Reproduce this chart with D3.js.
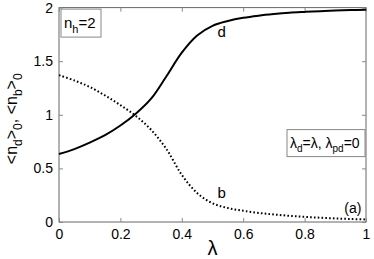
<!DOCTYPE html>
<html>
<head>
<meta charset="utf-8">
<script src="https://cdn.jsdelivr.net/npm/d3@7"></script>
<style>
  body { margin: 0; background: #fff; }
  text { font-family: "Liberation Sans", Arial, sans-serif; fill: #000; }
</style>
</head>
<body>
<div id="chart"></div>
<script>
var lambda = [0, 0.05, 0.1, 0.15, 0.2, 0.25, 0.3, 0.35, 0.4, 0.45, 0.5,
  0.55, 0.6, 0.65, 0.7, 0.75, 0.8, 0.85, 0.9, 0.95, 1];
var nd = [0.634, 0.68, 0.74, 0.81, 0.9, 1.01, 1.15, 1.36, 1.58, 1.74, 1.83,
  1.875, 1.905, 1.925, 1.94, 1.952, 1.96, 1.967, 1.973, 1.977, 1.98];
var nb = [1.37, 1.32, 1.26, 1.18, 1.09, 0.99, 0.86, 0.68, 0.44, 0.27, 0.175,
  0.13, 0.105, 0.085, 0.07, 0.058, 0.048, 0.04, 0.033, 0.028, 0.024];
var xTicks = [0, 0.2, 0.4, 0.6, 0.8, 1];
var yTicks = [0, 0.5, 1, 1.5, 2];

var margin = {top: 7.6, right: 8, bottom: 37, left: 59},
  width = 374 - margin.left - margin.right,
  height = 259 - margin.top - margin.bottom;

var svg = d3.select("#chart").append("svg")
  .attr("width", 374)
  .attr("height", 259);

var g = svg.append("g")
  .attr("transform", "translate(" + margin.left + "," + margin.top + ")");

var x = d3.scaleLinear().domain([0, 1]).range([0, width]);
var y = d3.scaleLinear().domain([0, 2]).range([height, 0]);

// box axes, ticks inward
g.append("rect")
  .attr("width", width).attr("height", height)
  .attr("fill", "none").attr("stroke", "#666").attr("stroke-width", 1);

function tickStyle(sel) {
  sel.select(".domain").remove();
  sel.selectAll(".tick line").attr("stroke", "#888");
  sel.selectAll(".tick text").style("font-size", "14px");
}

g.append("g")
  .attr("transform", "translate(0," + height + ")")
  .call(d3.axisBottom(x).tickValues(xTicks).tickSize(-4).tickPadding(7)
    .tickFormat(d3.format("")))
  .call(tickStyle);
g.append("g")
  .call(d3.axisTop(x).tickValues(xTicks).tickSize(-4).tickFormat(""))
  .call(tickStyle);
g.append("g")
  .call(d3.axisLeft(y).tickValues(yTicks).tickSize(-4).tickPadding(6)
    .tickFormat(d3.format("")))
  .call(tickStyle);
g.append("g")
  .attr("transform", "translate(" + width + ",0)")
  .call(d3.axisRight(y).tickValues(yTicks).tickSize(-4).tickFormat(""))
  .call(tickStyle);

var line = function(vals) {
  return d3.line()
    .x(function(d, i) { return x(lambda[i]); })
    .y(function(d) { return y(d); })
    .curve(d3.curveCatmullRom)(vals);
};

g.append("path")
  .attr("d", line(nd))
  .attr("fill", "none").attr("stroke", "#000").attr("stroke-width", 2);

g.append("path")
  .attr("d", line(nb))
  .attr("fill", "none").attr("stroke", "#000").attr("stroke-width", 2)
  .attr("stroke-dasharray", "1.6,2.2");

// curve labels
g.append("text").attr("x", x(0.53)).attr("y", y(1.73))
  .attr("text-anchor", "middle").style("font-size", "15px").text("d");
g.append("text").attr("x", x(0.53)).attr("y", y(0.22))
  .attr("text-anchor", "middle").style("font-size", "15px").text("b");
g.append("text").attr("x", x(0.985)).attr("y", y(0.08))
  .attr("text-anchor", "end").style("font-size", "14px").text("(a)");

// n_h box
g.append("rect")
  .attr("x", 2).attr("y", 1.5).attr("width", 40).attr("height", 28)
  .attr("fill", "#fff").attr("stroke", "#888");
var t1 = g.append("text").attr("x", 5).attr("y", 20).style("font-size", "15px");
t1.append("tspan").text("n");
t1.append("tspan").attr("dy", 5).style("font-size", "11px").text("h");
t1.append("tspan").attr("dy", -5).text("=2");

// lambda box
g.append("rect")
  .attr("x", 228).attr("y", 122).attr("width", 78).attr("height", 27)
  .attr("fill", "#fff").attr("stroke", "#888");
var t2 = g.append("text").attr("x", 231).attr("y", 140).style("font-size", "14px");
t2.append("tspan").text("λ");
t2.append("tspan").attr("dy", 4).style("font-size", "10px").text("d");
t2.append("tspan").attr("dy", -4).text("=λ, λ");
t2.append("tspan").attr("dy", 4).style("font-size", "10px").text("pd");
t2.append("tspan").attr("dy", -4).text("=0");

// axis titles
svg.append("text")
  .attr("x", margin.left + x(0.5)).attr("y", 255)
  .attr("text-anchor", "middle").style("font-size", "20px").text("λ");

var yl = svg.append("text")
  .attr("transform", "translate(17," + (margin.top + height / 2 + 4) + ") rotate(-90)")
  .attr("text-anchor", "middle").style("font-size", "16px");
yl.append("tspan").text("<n");
yl.append("tspan").attr("dy", 5).style("font-size", "12px").text("d");
yl.append("tspan").attr("dy", -5).text(">");
yl.append("tspan").attr("dy", 5).style("font-size", "12px").text("0");
yl.append("tspan").attr("dy", -5).text(", <n");
yl.append("tspan").attr("dy", 5).style("font-size", "12px").text("b");
yl.append("tspan").attr("dy", -5).text(">");
yl.append("tspan").attr("dy", 5).style("font-size", "12px").text("0");
</script>
</body>
</html>
